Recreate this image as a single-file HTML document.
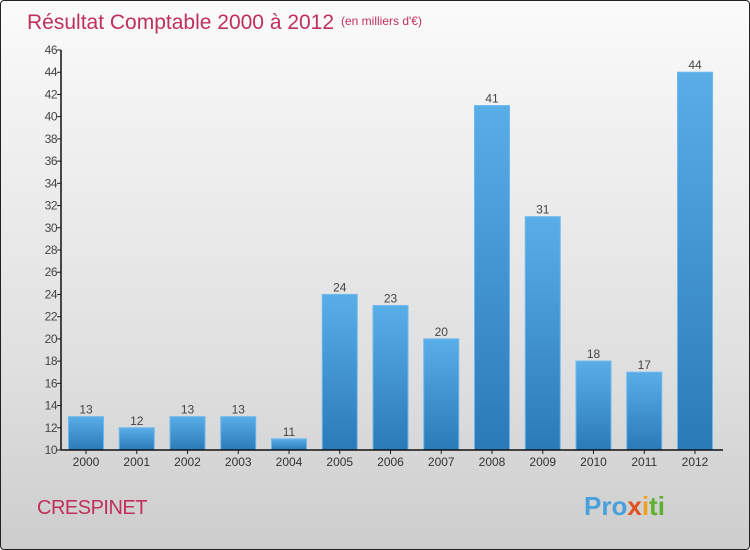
<!DOCTYPE html>
<html><head><meta charset="utf-8"><style>
body{margin:0}
#c{position:relative;width:748px;height:548px;border:1px solid #222;border-radius:4px;background:linear-gradient(#fbfbfb,#f2f2f2 20%,#dedede 70%,#cdcdcd);overflow:hidden;font-family:"Liberation Sans",sans-serif}
</style></head><body>
<div id="c">
<svg id="s" width="748" height="548">
<defs><linearGradient id="g" x1="0" y1="0" x2="0" y2="1"><stop offset="0" stop-color="#5aaee8"/><stop offset="1" stop-color="#2a7ab8"/></linearGradient></defs>
<text x="26" y="28" font-size="21" fill="#c0305a">Résultat Comptable 2000 à 2012</text>
<text x="340" y="24" font-size="12" fill="#c0305a">(en milliers d'€)</text>
<text x="36" y="513" font-size="20" fill="#c0305a" letter-spacing="-0.5">CRESPINET</text>
<text x="583" y="514" font-size="26" font-weight="bold"><tspan fill="#4aa0dc">Pro</tspan><tspan fill="#e05020">x</tspan><tspan fill="#f0a020">i</tspan><tspan fill="#60b030">ti</tspan></text>
</svg>
</div>
<script>
const categories=["2000","2001","2002","2003","2004","2005","2006","2007","2008","2009","2010","2011","2012"];
const values=[13,12,13,13,11,24,23,20,41,31,18,17,44];
const yTicks=[10,12,14,16,18,20,22,24,26,28,30,32,34,36,38,40,42,44,46];
const svg=document.getElementById('s');const NS='http://www.w3.org/2000/svg';
const y0=449,y1=49,vmin=10,vmax=46,ax=60;
function y(v){return y0-(v-vmin)/(vmax-vmin)*(y0-y1);}
function x(i){return 85+i*50.75;}
function mk(t,a,p){const e=document.createElementNS(NS,t);for(const k in a)e.setAttribute(k,a[k]);(p||svg).appendChild(e);return e;}
yTicks.forEach(t=>{
const l=mk('line',{x1:ax-4,x2:ax,y1:y(t),y2:y(t),stroke:'#222'});


const tx=mk('text',{x:ax-4,y:y(t)+4,'font-size':12,fill:'#444','text-anchor':'end','letter-spacing':'-0.5'});tx.textContent=t;


});
categories.forEach((c,i)=>{
const cx=x(i),v=values[i];
const r=mk('rect',{x:cx-17.5,y:y(v),width:35,height:y0-y(v),fill:'url(#g)',stroke:'#6cb8ee','stroke-width':1});


const lt=mk('text',{x:cx,y:y(v)-3,'font-size':12,fill:'#444','text-anchor':'middle'});lt.textContent=v;


const tk=mk('line',{x1:cx,x2:cx,y1:y0,y2:y0+4,stroke:'#222'});


const xt=mk('text',{x:cx,y:y0+16,'font-size':12,fill:'#333','text-anchor':'middle'});xt.textContent=c;


});
const ya=mk('line',{x1:ax,x2:ax,y1:y1,y2:y0,stroke:'#111','stroke-width':1.5});


const xa=mk('line',{x1:ax,x2:722,y1:y0,y2:y0,stroke:'#111','stroke-width':1.5});


</script>
</body></html>
